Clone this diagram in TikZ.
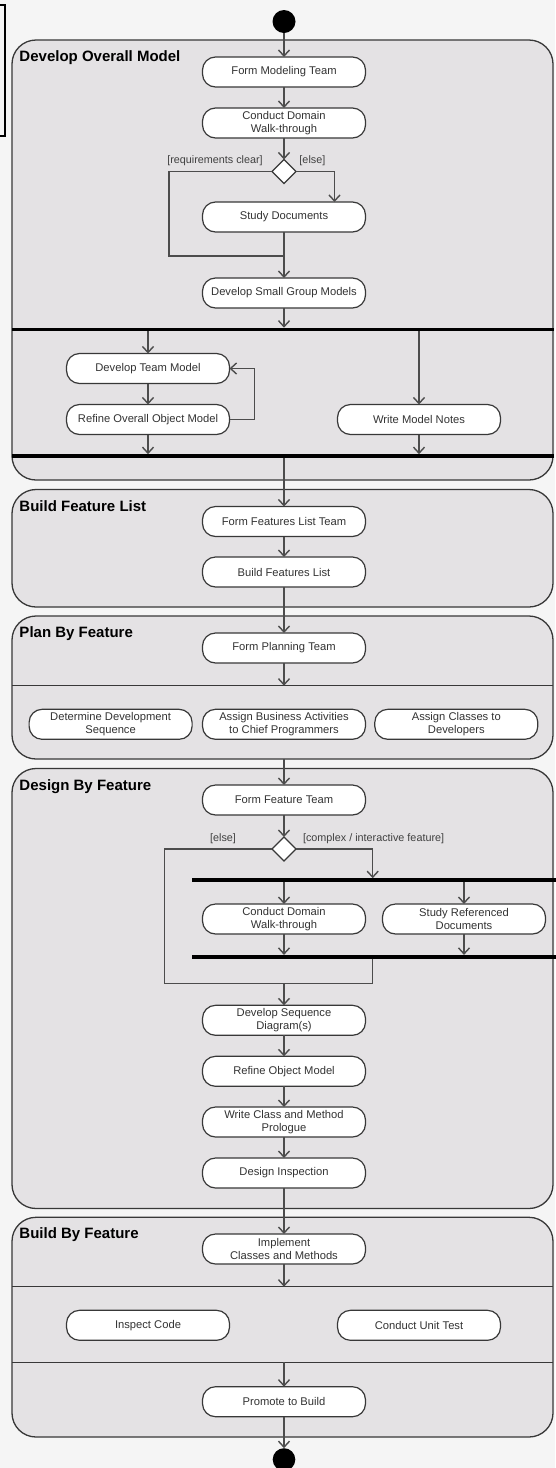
\documentclass[tikz,border=0pt]{standalone}
\usepackage{fontspec}
\setmainfont{Liberation Sans}
\usetikzlibrary{arrows.meta,shapes.geometric}
\definecolor{panelfill}{HTML}{E4E2E4}
\definecolor{edgecol}{HTML}{383838}
\definecolor{wirecol}{HTML}{4C4C4C}
\definecolor{paper}{HTML}{F5F5F5}

\begin{document}
\begin{tikzpicture}[x=1pt,y=-1pt,
  every node/.style={inner sep=0pt, outer sep=0pt},
  panel/.style={draw=edgecol, line width=1.3pt, fill=panelfill, rounded corners=24pt, minimum width=541pt},
  phase/.style={font=\fontsize{15}{17}\selectfont\bfseries, anchor=base west},
  act/.style={draw=edgecol, line width=1.2pt, fill=white, rounded corners=13pt,
    minimum width=163pt, minimum height=30pt, align=center,
    font=\fontsize{11.2}{12.7}\selectfont, text=black!80},
  choice/.style={diamond, draw=edgecol, line width=1.2pt, fill=white, minimum width=24pt, minimum height=24pt},
  bar/.style={fill=black, minimum height=3.6pt},
  guard/.style={font=\fontsize{10.8}{12}\selectfont, text=black!75},
  flow/.style={draw=wirecol, line width=1.4pt, -{Straight Barb[length=6pt,width=11pt]}},
  link/.style={draw=wirecol, line width=1.4pt},
  lane/.style={draw=edgecol, line width=1.2pt},
]
\useasboundingbox (0,0) rectangle (555,1468);
\fill[paper] (0,0) rectangle (555,1468);

% frame edge at the upper left
\draw[line width=2.2pt] (-10,5) rectangle (5,136);

% phase panels
\node[panel, minimum height=440pt]   (p1) at (282.5,260) {};
\node[panel, minimum height=117.5pt] (p2) at (282.5,548.25) {};
\node[panel, minimum height=143pt]   (p3) at (282.5,687.5) {};
\node[panel, minimum height=440pt]   (p4) at (282.5,988.5) {};
\node[panel, minimum height=219.7pt] (p5) at (282.5,1327.15) {};

\node[phase] (t1) at (19.5,61.5)   {Develop Overall Model};
\node[phase] (t2) at (19.5,511)    {Build Feature List};
\node[phase] (t3) at (19.5,637.5)  {Plan By Feature};
\node[phase] (t4) at (19.5,790)    {Design By Feature};
\node[phase] (t5) at (19.5,1238.8) {Build By Feature};

% lane dividers
\coordinate (div1) at (0,685.7);
\coordinate (div2) at (0,1286.7);
\coordinate (div3) at (0,1362.3);
\draw[lane] (p3.west |- div1) -- (p3.east |- div1);
\draw[lane] (p5.west |- div2) -- (p5.east |- div2);
\draw[lane] (p5.west |- div3) -- (p5.east |- div3);

% initial node
\node[circle, fill=black, minimum size=23pt] (start) at (284,21.5) {};

% Develop Overall Model
\node[act] (fmt)  at (284,72)    {Form Modeling Team};
\node[act] (cdw)  at (284,123)   {Conduct Domain\\Walk-through};
\node[choice] (d1) at (284,171.5) {};
\node[guard] (g1) at (215,161)   {[requirements clear]};
\node[guard] (g2) at (312.4,161) {[else]};
\node[act] (sd)   at (284,217)   {Study Documents};
\node[act] (dsgm) at (284,293)   {Develop Small Group Models};
\node[bar, minimum width=542pt] (bar1) at (283,329.5) {};
\node[act] (dtm)  at (148,368.5) {Develop Team Model};
\node[act] (room) at (148,419.5) {Refine Overall Object Model};
\node[act] (wmn)  at (419,419.5) {Write Model Notes};
\node[bar, minimum width=542pt] (bar2) at (283,456) {};
\coordinate (mL) at (169,256);
\coordinate (m1) at (284,256);

% Build Feature List
\node[act] (fflt) at (284,521.5) {Form Features List Team};
\node[act] (bfl)  at (284,572)   {Build Features List};

% Plan By Feature
\node[act] (fpt)   at (284,648)   {Form Planning Team};
\node[act] (ddseq) at (110.6,724.3) {Determine Development\\Sequence};
\node[act] (abact) at (284,724.3)   {Assign Business Activities\\to Chief Programmers};
\node[act] (acls)  at (456.3,724.3) {Assign Classes to\\Developers};

% Design By Feature
\node[act] (fft)  at (284,800)   {Form Feature Team};
\node[choice] (d2) at (284,849)  {};
\node[guard] (g3) at (223,838.5) {[else]};
\node[guard] (g4) at (373.6,838.5) {[complex / interactive feature]};
\node[bar, minimum width=364pt] (bar3) at (373.5,880) {};
\node[act] (cdw2) at (284,919)   {Conduct Domain\\Walk-through};
\node[act] (srd)  at (464,919)   {Study Referenced\\Documents};
\node[bar, minimum width=364pt] (bar4) at (373.5,956.7) {};
\coordinate (lpL) at (164.6,983.3);
\coordinate (lpR) at (372.7,983.3);
\node[act] (dsd)  at (284,1020.3) {Develop Sequence\\Diagram(s)};
\node[act] (rom)  at (284,1071.3) {Refine Object Model};
\node[act] (wcmp) at (284,1122)   {Write Class and Method\\Prologue};
\node[act] (di)   at (284,1173)   {Design Inspection};

% Build By Feature
\node[act] (icm) at (284,1249)   {Implement\\Classes and Methods};
\node[act] (ic)  at (148,1325.3) {Inspect Code};
\node[act] (cut) at (419,1325.3) {Conduct Unit Test};
\node[act] (ptb) at (284,1401.7) {Promote to Build};

% final node
\node[circle, fill=black, minimum size=22.6pt] (finish) at (284,1459.5) {};

% flows: Develop Overall Model
\draw[flow] (start) -- (fmt);
\draw[flow] (fmt) -- (cdw);
\draw[flow] (cdw) -- (d1);
\draw[link] (d1.west) -| (mL) -- (m1);
\draw[flow] (d1.east) -| ([xshift=50.5pt]sd.north);
\draw[flow] (sd) -- (dsgm);
\draw[flow] (dsgm) -- (dsgm |- bar1.north);
\draw[flow] (bar1.south -| dtm) -- (dtm);
\draw[flow] (bar1.south -| wmn) -- (wmn);
\draw[flow] (dtm) -- (room);
\draw[flow] (room.east) -- ++(25,0) |- (dtm.east);
\draw[flow] (room) -- (room |- bar2.north);
\draw[flow] (wmn) -- (wmn |- bar2.north);

% flows: Build Feature List and Plan By Feature
\draw[flow] (bar2.south -| fflt) -- (fflt);
\draw[flow] (fflt) -- (bfl);
\draw[flow] (bfl) -- (fpt);
\draw[flow] (fpt) -- (fpt |- div1);

% flows: Design By Feature
\draw[flow] (p3.south -| fft) -- (fft);
\draw[flow] (fft) -- (d2);
\draw[link] (d2.west) -| (lpL) -- (lpR);
\draw[flow] (d2.east) -| (bar3.north -| lpR);
\draw[flow] (bar3.south -| cdw2) -- (cdw2);
\draw[flow] (bar3.south -| srd) -- (srd);
\draw[flow] (cdw2) -- (cdw2 |- bar4.north);
\draw[flow] (srd) -- (srd |- bar4.north);
\draw[link] (bar4.south -| lpR) -- (lpR);
\draw[flow] (lpR -| dsd) -- (dsd);
\draw[flow] (dsd) -- (rom);
\draw[flow] (rom) -- (wcmp);
\draw[flow] (wcmp) -- (di);

% flows: Build By Feature
\draw[flow] (di) -- (icm);
\draw[flow] (icm) -- (icm |- div2);
\draw[flow] (ptb |- div3) -- (ptb);
\draw[flow] (ptb) -- (finish);
\end{tikzpicture}
\end{document}
